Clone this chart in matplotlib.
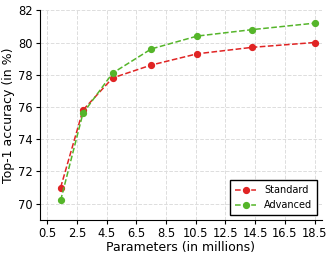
import matplotlib
matplotlib.use("Agg")
import matplotlib.pyplot as plt

# parameters (millions) and top-1 accuracy
params = [1.4, 2.9, 4.9, 7.5, 10.6, 14.3, 18.5]
standard_acc = [71.0, 75.8, 77.8, 78.6, 79.3, 79.7, 80.0]
advanced_acc = [70.2, 75.6, 78.1, 79.6, 80.4, 80.8, 81.2]
x_ticks = [0.5, 2.5, 4.5, 6.5, 8.5, 10.5, 12.5, 14.5, 16.5, 18.5]
y_ticks = [70, 72, 74, 76, 78, 80, 82]

fig, ax = plt.subplots(figsize=(3.32, 2.57), dpi=100)

ax.plot(params, standard_acc, "o--", color="#e02424", markersize=4.2,
        linewidth=1.1, label="Standard")
ax.plot(params, advanced_acc, "o--", color="#55b52a", markersize=4.2,
        linewidth=1.1, label="Advanced")

ax.set_xticks(x_ticks)
ax.set_yticks(y_ticks)
ax.set_xlim(0, 19)
ax.set_ylim(69, 82)
ax.tick_params(labelsize=8.3, pad=2, length=3)
ax.set_xlabel("Parameters (in millions)", fontsize=9, labelpad=1)
ax.set_ylabel("Top-1 accuracy (in %)", fontsize=9, labelpad=2)
ax.grid(True, linestyle="--", color="#dddddd", linewidth=0.7)
ax.spines["top"].set_visible(False)
ax.spines["right"].set_visible(False)

leg = ax.legend(loc="lower right", fontsize=7, fancybox=False, framealpha=1,
                handlelength=2.2, borderpad=0.5)
leg.get_frame().set_edgecolor("black")

fig.subplots_adjust(left=0.12, right=0.97, bottom=0.145, top=0.96)
fig.savefig("out.png", dpi=100)
